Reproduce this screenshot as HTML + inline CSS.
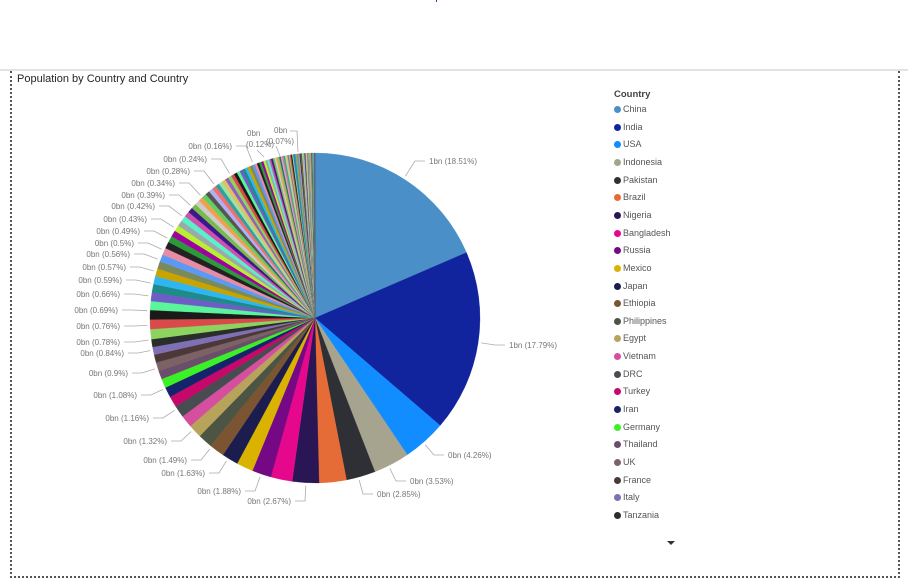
<!DOCTYPE html>
<html><head><meta charset="utf-8"><style>
body{margin:0;width:908px;height:582px;background:#fff;overflow:hidden;font-family:"Liberation Sans",sans-serif;position:relative}
.topline{position:absolute;left:0;top:69px;width:908px;height:2px;background:#e3e3e3}
.frame{position:absolute;left:10px;top:71px;width:886px;height:505px;border-left:2px dotted #555;border-right:2px dotted #555;border-bottom:2px dotted #555}
.title{position:absolute;left:17px;top:73px;font-size:11px;color:#252423}
.lg{position:absolute;left:614px;font-size:9px;color:#555}
.lg i{display:inline-block;width:7px;height:7px;border-radius:50%;margin-right:2px;vertical-align:-1px}
</style></head><body>
<div style="position:absolute;left:436px;top:0;width:1px;height:2px;background:#33a"></div>
<div class="topline"></div>
<div class="frame"></div>
<div class="title">Population by Country and Country</div>
<svg id="s" width="908" height="582" style="position:absolute;left:0;top:0"></svg>
<div class="lg" style="top:89px;font-weight:bold;color:#444;font-size:9.5px">Country</div>
<div id="leg"></div>
<div style="position:absolute;left:667px;top:541px;width:0;height:0;border-left:4px solid transparent;border-right:4px solid transparent;border-top:4px solid #333"></div>
<script>
var named=[["China",18.51,"#4A8FC7"],["India",17.79,"#12239E"],["USA",4.26,"#118DFF"],["Indonesia",3.53,"#A6A38E"],["Pakistan",2.85,"#2F2F36"],["Brazil",2.67,"#E66C37"],["Nigeria",2.6,"#2A1654"],["Bangladesh",2.1,"#E6088C"],["Russia",1.88,"#750985"],["Mexico",1.63,"#D9B300"],["Japan",1.6,"#1B1D4F"],["Ethiopia",1.49,"#7B5532"],["Philippines",1.4,"#4C5543"],["Egypt",1.32,"#B8A35B"],["Vietnam",1.2,"#D64F9F"],["DRC",1.16,"#474C50"],["Turkey",1.08,"#C5086A"],["Iran",1.0,"#15236B"],["Germany",0.9,"#3CF027"],["Thailand",0.84,"#6B4E6B"],["UK",0.84,"#7C6264"],["France",0.78,"#4D3839"],["Italy",0.76,"#7F70B5"],["Tanzania",0.76,"#292E2A"]];
var pal=["#8DD35F","#D94A4A","#1A1A1A","#5AF59A","#6E5CC7","#1E8A8A","#2FB6F0","#C9A400","#7A8A5A","#5A9AF5","#E88BA5","#222","#2A9A3A","#A000A0","#B8F030","#9AA","#5AF0C8","#D050B0","#3A1A8A","#7ABA4A","#CCC","#F0A050","#60D060","#555","#B0B0F0","#F07070","#30A0A0","#A0E0A0","#E0C060","#9060C0"];
var sl=named.map(function(n){return [n[1],n[2]]});
var tiny=[],v=0.74,k=0,ts=0;
while(v>0.02){tiny.push([v,pal[k%pal.length]]);ts+=v;k++;v*=0.965;}
var ns=0;named.forEach(function(n){ns+=n[1]});
tiny.forEach(function(t){sl.push([t[0]*(100-ns)/ts,t[1]])});
var tot=100;
var cx=315,cy=318,r=165,a0=-Math.PI/2,h="";
sl.forEach(function(a){var a1=a0+a[0]/tot*2*Math.PI;
var x0=cx+r*Math.cos(a0),y0=cy+r*Math.sin(a0),x1=cx+r*Math.cos(a1),y1=cy+r*Math.sin(a1);
h+='<path d="M'+cx+' '+cy+'L'+x0.toFixed(2)+' '+y0.toFixed(2)+'A'+r+' '+r+' 0 '+((a1-a0)>Math.PI?1:0)+' 1 '+x1.toFixed(2)+' '+y1.toFixed(2)+'Z" fill="'+a[1]+'" stroke="'+a[1]+'" stroke-width="0.3"/>';a0=a1;});
var L=[["1bn (18.51%)",429,164,0],["1bn (17.79%)",509,348,0],["0bn (4.26%)",448,458,0],["0bn (3.53%)",410,484,0],["0bn (2.85%)",377,497,0],
["0bn (2.67%)",291,504,1],["0bn (1.88%)",241,494,1],["0bn (1.63%)",205,476,1],["0bn (1.49%)",187,463,1],["0bn (1.32%)",167,444,1],["0bn (1.16%)",149,421,1],["0bn (1.08%)",137,398,1],["0bn (0.9%)",128,376,1],["0bn (0.84%)",124,356,1],["0bn (0.78%)",120,345,1],["0bn (0.76%)",120,329,1],["0bn (0.69%)",118,313,1],["0bn (0.66%)",120,297,1],["0bn (0.59%)",122,283,1],["0bn (0.57%)",126,270,1],["0bn (0.56%)",130,257,1],["0bn (0.5%)",134,246,1],["0bn (0.49%)",140,234,1],["0bn (0.43%)",147,222,1],["0bn (0.42%)",155,209,1],["0bn (0.39%)",165,198,1],["0bn (0.34%)",175,186,1],["0bn (0.28%)",190,174,1],["0bn (0.24%)",207,162,1],["0bn (0.16%)",232,149,1]];
L.forEach(function(l){var tx=l[1],ty=l[2],sx,ex;
if(l[3]){h+='<text x="'+tx+'" y="'+ty+'" text-anchor="end" font-size="8" fill="#777">'+l[0]+'</text>';sx=tx+4;ex=sx+10;}
else{h+='<text x="'+tx+'" y="'+ty+'" font-size="8" fill="#777">'+l[0]+'</text>';sx=tx-4;ex=sx-10;}
var py=ty-3,dx=ex-cx,dy=py-cy,d=Math.sqrt(dx*dx+dy*dy),px=cx+dx/d*168,pyy=cy+dy/d*168;
h+='<polyline points="'+sx+','+py+' '+ex+','+py+' '+px.toFixed(1)+','+pyy.toFixed(1)+'" fill="none" stroke="#aaa" stroke-width="0.8"/>';});
h+='<text x="247" y="136" font-size="8" fill="#777">0bn</text><text x="246" y="147" font-size="8" fill="#777">(0.12%)</text>';
h+='<text x="274" y="133" font-size="8" fill="#777">0bn</text><text x="266" y="144" font-size="8" fill="#777">(0.07%)</text>';
h+='<polyline points="290,131 297,131 298,152" fill="none" stroke="#aaa" stroke-width="0.8"/><polyline points="257,150 264,157" fill="none" stroke="#aaa" stroke-width="0.8"/><polyline points="276,146 280,156" fill="none" stroke="#aaa" stroke-width="0.8"/>';
document.getElementById("s").innerHTML=h;
var g="";named.forEach(function(n,i){g+='<div class="lg" style="top:'+(104+i*17.65).toFixed(1)+'px"><i style="background:'+n[2]+'"></i>'+n[0]+'</div>';});
document.getElementById("leg").innerHTML=g;
</script>
</body></html>
